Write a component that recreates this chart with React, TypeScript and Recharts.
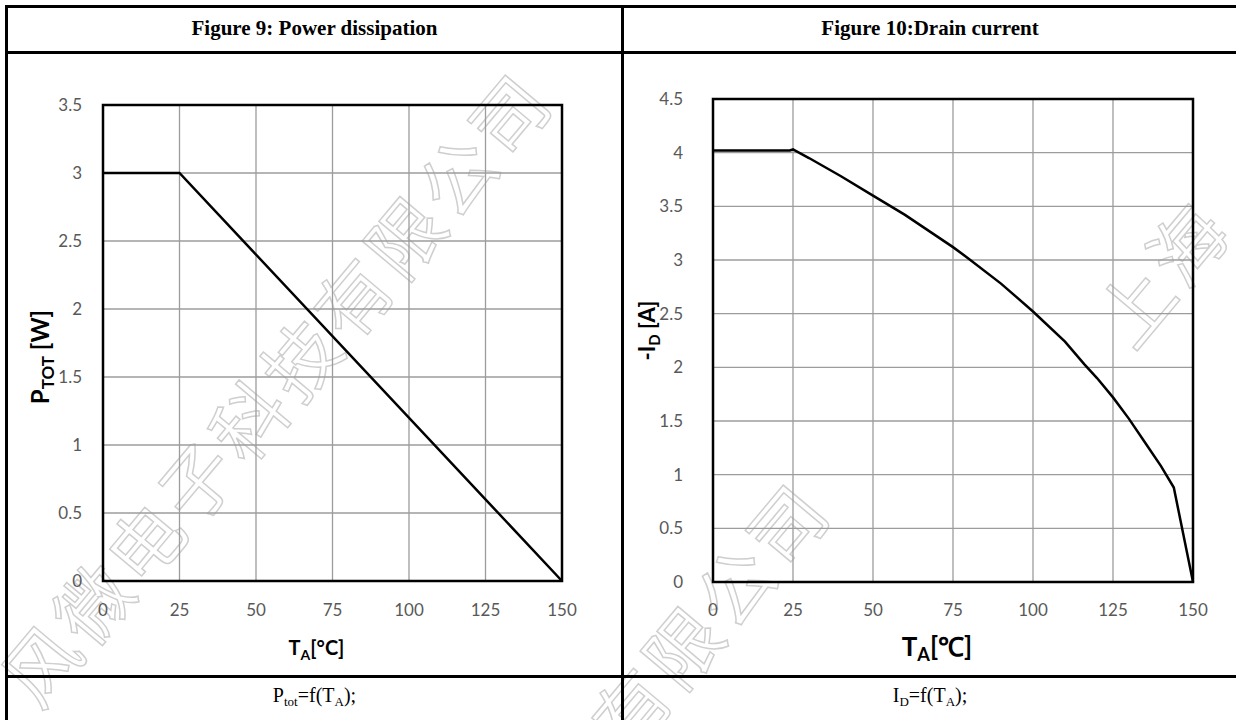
import React from "react";
import { LineChart, Line, XAxis, YAxis, CartesianGrid, ReferenceArea } from "recharts";

// temperature axis shared by both figures
const tempTicks = [0, 25, 50, 75, 100, 125, 150];

// Figure 9: power dissipation
const powerTicks = [0, 0.5, 1, 1.5, 2, 2.5, 3, 3.5];
const powerTemp = [0, 25, 150];
const powerValues = [3, 3, 0];

// Figure 10: drain current
const currentTicks = [0, 0.5, 1, 1.5, 2, 2.5, 3, 3.5, 4, 4.5];
const currentTemp = [0, 10, 20, 24, 25, 30, 40, 50, 60, 70, 75, 80, 90, 100, 110, 116, 120, 125, 130, 135, 140, 144, 150];
const currentValues = [4.02, 4.02, 4.02, 4.02, 4.03, 3.95, 3.78, 3.6, 3.42, 3.22, 3.12, 3.01, 2.78, 2.52, 2.24, 2.03, 1.9, 1.72, 1.52, 1.3, 1.08, 0.88, 0];

// watermark text
const markLeft = "风微电子科技有限公司";
const markMiddle = "有限公司";
const markRight = "上海";

const powerData = powerTemp.map((t, i) => ({ t, v: powerValues[i] }));
const currentData = currentTemp.map((t, i) => ({ t, v: currentValues[i] }));

const tickStyle = { fill: "#595959", fontSize: 17, fontFamily: "Lato, sans-serif" };
const titleFont = "Lato, sans-serif";
const gridColor = "#9c9c9c";
const serif = "'Liberation Serif', 'Times New Roman', serif";

function PowerYTitle(props: any) {
  const vb = props.viewBox || { x: 20, y: 105, width: 83, height: 476 };
  const cx = vb.x + 29;
  const cy = vb.y + vb.height / 2 + 14;
  return (
    <text x={cx} y={cy} transform={`rotate(-90 ${cx} ${cy})`} textAnchor="middle"
      fontFamily={titleFont} fontWeight="bold" fontSize={24} fill="#000">
      <tspan>P</tspan>
      <tspan dy={5} fontSize={17}>TOT</tspan>
      <tspan dy={-5}> [W]</tspan>
    </text>
  );
}

function CurrentYTitle(props: any) {
  const vb = props.viewBox || { x: 20, y: 99, width: 71, height: 483 };
  const cx = vb.x + 13;
  const cy = vb.y + vb.height / 2 - 10;
  return (
    <text x={cx} y={cy} transform={`rotate(-90 ${cx} ${cy})`} textAnchor="middle"
      fontFamily={titleFont} fontWeight="bold" fontSize={22} fill="#000">
      <tspan>-I</tspan>
      <tspan dy={5} fontSize={15}>D</tspan>
      <tspan dy={-5}> [A]</tspan>
    </text>
  );
}

function TempTitle(props: any) {
  const { big } = props;
  const vb = props.viewBox || { x: 103, y: 581, width: 459, height: 40 };
  const cx = vb.x + vb.width / 2 - 16;
  const cy = vb.y + 74;
  const fs = big ? 26 : 20;
  return (
    <text x={cx} y={cy} textAnchor="middle" fontFamily={titleFont} fontWeight="bold" fontSize={fs} fill="#000">
      <tspan>T</tspan>
      <tspan dy={5} fontSize={fs * 0.7}>A</tspan>
      <tspan dy={-5}>{big ? "[℃]" : "[°C]"}</tspan>
    </text>
  );
}

function MarkRow({ chars, x0, y0 }: { chars: string; x0: number; y0: number }) {
  return (
    <>
      {Array.from(chars).map((c, i) => {
        const cx = x0 + i * 52;
        const cy = y0 - i * 61;
        return (
          <text key={i} x={cx} y={cy} transform={`rotate(-50 ${cx} ${cy})`} textAnchor="middle" dominantBaseline="central"
            fontFamily="'Noto Sans CJK SC', sans-serif" fontSize={74} fill="none" stroke="#cfcfcf" strokeWidth={1.5}>
            {c}
          </text>
        );
      })}
    </>
  );
}

function Watermark() {
  return (
    <svg width={1236} height={720} style={{ position: "absolute", left: 0, top: 0 }}>
      <MarkRow chars={markLeft} x0={38} y0={662} />
      <MarkRow chars={markMiddle} x0={628} y0={706} />
      <MarkRow chars={markRight} x0={1132} y0={303} />
    </svg>
  );
}

const line = (style: React.CSSProperties) => <div style={{ position: "absolute", background: "#000", ...style }} />;

export default function App() {
  return (
    <div style={{ position: "absolute", left: 0, top: 0, width: 1236, height: 720, overflow: "hidden", background: "#fff" }}>
      <Watermark />

      {/* table borders */}
      {line({ left: 5, top: 5, width: 1240, height: 3 })}
      {line({ left: 5, top: 5, width: 3, height: 720 })}
      {line({ left: 5, top: 51, width: 1240, height: 3 })}
      {line({ left: 621, top: 5, width: 3, height: 720 })}
      {line({ left: 5, top: 675, width: 1240, height: 3 })}

      {/* headers */}
      <div style={{ position: "absolute", left: 8, top: 16, width: 613, textAlign: "center", fontFamily: serif, fontWeight: "bold", fontSize: 21 }}>
        Figure 9: Power dissipation
      </div>
      <div style={{ position: "absolute", left: 624, top: 16, width: 612, textAlign: "center", fontFamily: serif, fontWeight: "bold", fontSize: 21 }}>
        Figure 10:Drain current
      </div>

      {/* footers */}
      <div style={{ position: "absolute", left: 8, top: 683, width: 613, textAlign: "center", fontFamily: serif, fontSize: 20, lineHeight: "24px" }}>
        P<sub style={{ fontSize: 13, verticalAlign: "-4px" }}>tot</sub>=f(T<sub style={{ fontSize: 13, verticalAlign: "-4px" }}>A</sub>);
      </div>
      <div style={{ position: "absolute", left: 624, top: 683, width: 612, textAlign: "center", fontFamily: serif, fontSize: 20, lineHeight: "24px" }}>
        I<sub style={{ fontSize: 13, verticalAlign: "-4px" }}>D</sub>=f(T<sub style={{ fontSize: 13, verticalAlign: "-4px" }}>A</sub>);
      </div>

      {/* Figure 9 */}
      <div style={{ position: "absolute", left: 0, top: 0 }}>
        <LineChart width={620} height={680} data={powerData} margin={{ top: 105, right: 58, left: 20, bottom: 59 }}>
          <CartesianGrid stroke={gridColor} strokeWidth={1.3} />
          <XAxis dataKey="t" type="number" domain={[0, 150]} ticks={tempTicks} axisLine={false} tickLine={false}
            tickSize={0} tickMargin={23} height={40} tick={tickStyle} interval={0}
            label={{ content: (p: any) => <TempTitle {...p} /> }} />
          <YAxis type="number" domain={[0, 3.5]} ticks={powerTicks} axisLine={false} tickLine={false}
            tickSize={0} tickMargin={21} width={83} tick={tickStyle} interval={0}
            label={{ content: (p: any) => <PowerYTitle {...p} /> }} />
          <ReferenceArea x1={0} x2={150} y1={0} y2={3.5} fill="none" stroke="#000" strokeWidth={2.5} ifOverflow="visible" />
          <Line type="linear" dataKey="v" stroke="#000" strokeWidth={2.5} dot={false} isAnimationActive={false} />
        </LineChart>
      </div>

      {/* Figure 10 */}
      <div style={{ position: "absolute", left: 622, top: 0 }}>
        <LineChart width={614} height={680} data={currentData} margin={{ top: 99, right: 43, left: 20, bottom: 58 }}>
          <CartesianGrid stroke={gridColor} strokeWidth={1.3} />
          <XAxis dataKey="t" type="number" domain={[0, 150]} ticks={tempTicks} axisLine={false} tickLine={false}
            tickSize={0} tickMargin={22} height={40} tick={tickStyle} interval={0}
            label={{ content: (p: any) => <TempTitle {...p} big /> }} />
          <YAxis type="number" domain={[0, 4.5]} ticks={currentTicks} axisLine={false} tickLine={false}
            tickSize={0} tickMargin={30} width={71} tick={tickStyle} interval={0}
            label={{ content: (p: any) => <CurrentYTitle {...p} /> }} />
          <ReferenceArea x1={0} x2={150} y1={0} y2={4.5} fill="none" stroke="#000" strokeWidth={2.5} ifOverflow="visible" />
          <Line type="linear" dataKey="v" stroke="#000" strokeWidth={2.5} dot={false} isAnimationActive={false} />
        </LineChart>
      </div>
    </div>
  );
}
